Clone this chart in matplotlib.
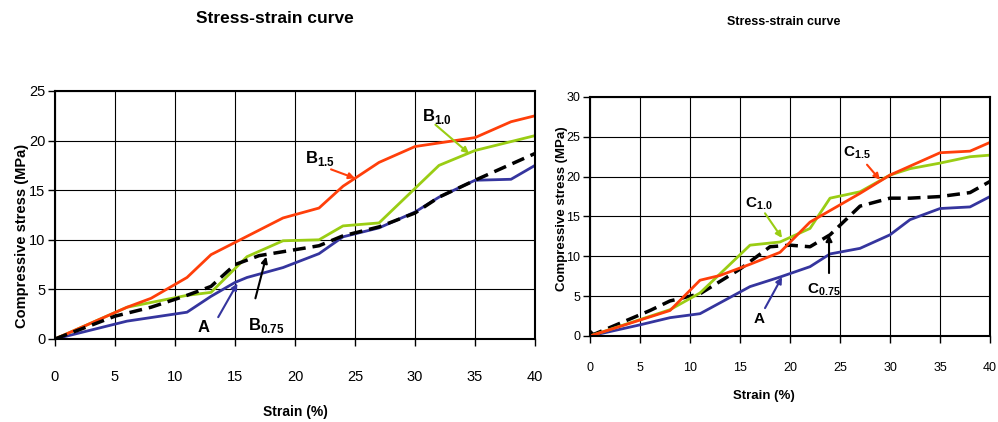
import matplotlib
matplotlib.use("Agg")
import matplotlib.pyplot as plt

plt.rcParams['font.family'] = ['Liberation Sans', 'DejaVu Sans']
plt.rcParams['mathtext.fontset'] = 'custom'
plt.rcParams['mathtext.rm'] = 'Liberation Sans'
plt.rcParams['mathtext.bf'] = 'Liberation Sans:bold'

# ---- left chart (series B) ----
a_left_x = [0, 6, 11, 13, 15, 16, 19, 22, 24, 27, 30, 32, 35, 38, 40]
a_left_y = [0, 1.8, 2.7, 4.3, 5.7, 6.2, 7.2, 8.6, 10.3, 11.2, 12.8, 14.3, 16.0, 16.1, 17.5]

b075_x = [0, 5, 8, 11, 13, 15, 17, 19, 22, 24, 27, 30, 32, 35, 40]
b075_y = [0, 2.3, 3.2, 4.4, 5.3, 7.5, 8.4, 8.8, 9.4, 10.4, 11.3, 12.7, 14.3, 16.0, 18.7]

b10_x = [0, 6, 11, 13, 16, 19, 22, 24, 27, 32, 35, 40]
b10_y = [0, 3.2, 4.4, 4.7, 8.3, 9.9, 10.0, 11.4, 11.7, 17.5, 19.0, 20.5]

b15_x = [0, 6, 8, 11, 13, 19, 22, 24, 27, 30, 35, 38, 40]
b15_y = [0, 3.2, 4.1, 6.2, 8.5, 12.2, 13.2, 15.4, 17.8, 19.4, 20.3, 21.9, 22.5]

# ---- right chart (series C) ----
a_right_x = [0, 5, 8, 11, 16, 19, 22, 24, 27, 30, 32, 35, 38, 40]
a_right_y = [0, 1.4, 2.3, 2.8, 6.2, 7.4, 8.7, 10.3, 11.0, 12.7, 14.6, 16.0, 16.2, 17.5]

c075_x = [0, 6, 8, 11, 15, 18, 20, 22, 24, 27, 30, 32, 35, 38, 40]
c075_y = [0, 3.2, 4.4, 5.3, 8.4, 11.2, 11.4, 11.2, 12.7, 16.3, 17.3, 17.3, 17.5, 18.0, 19.4]

c10_x = [0, 8, 11, 16, 19, 22, 24, 27, 30, 32, 35, 38, 40]
c10_y = [0, 3.3, 5.4, 11.4, 11.8, 13.5, 17.3, 18.1, 20.2, 21.0, 21.7, 22.5, 22.7]

c15_x = [0, 8, 11, 13, 16, 19, 22, 27, 30, 35, 38, 40]
c15_y = [0, 3.2, 7.0, 7.6, 9.0, 10.5, 14.3, 17.9, 20.2, 23.0, 23.2, 24.3]

ticks_x = [0, 5, 10, 15, 20, 25, 30, 35, 40]

RED = '#ff3f0a'
GREEN = '#9acd14'
BLUE = '#35359e'

# label text, text position, arrow start, arrow tip, colour
notes_left = [
    (r'$\mathbf{B}_{\mathbf{1.5}}$', (20.8, 17.7), (23.0, 17.1), (25.0, 16.2), RED),
    (r'$\mathbf{B}_{\mathbf{1.0}}$', (30.6, 22.0), (31.7, 21.6), (34.5, 18.7), GREEN),
    (r'$\mathbf{A}$', (11.8, 0.7), (13.6, 2.2), (15.2, 5.6), BLUE),
    (r'$\mathbf{B}_{\mathbf{0.75}}$', (16.1, 0.9), (16.7, 4.1), (17.6, 8.3), 'black'),
]
notes_right = [
    (r'$\mathbf{C}_{\mathbf{1.0}}$', (15.5, 16.1), (17.5, 15.4), (19.2, 12.3), GREEN),
    (r'$\mathbf{C}_{\mathbf{1.5}}$', (25.3, 22.5), (27.7, 21.5), (29.0, 19.6), RED),
    (r'$\mathbf{C}_{\mathbf{0.75}}$', (21.7, 5.4), (23.9, 7.9), (23.9, 12.7), 'black'),
    (r'$\mathbf{A}$', (16.3, 1.6), (17.5, 3.5), (19.2, 7.4), BLUE),
]

fig = plt.figure(figsize=(9.98, 4.22), dpi=100)
ax1 = fig.add_axes([0.0551, 0.1967, 0.4810, 0.5877])
ax2 = fig.add_axes([0.5912, 0.2038, 0.4008, 0.5664])


def style(ax, ymax, fs, xpad):
    ax.set_xlim(0, 40)
    ax.set_ylim(0, ymax)
    ax.set_xticks(ticks_x)
    ax.set_yticks(range(0, ymax + 1, 5))
    ax.grid(True, color='black', linewidth=0.8)
    ax.set_axisbelow(True)
    for s in ax.spines.values():
        s.set_linewidth(1.5)
    ax.tick_params(axis='x', direction='out', length=5, width=1, pad=xpad, labelsize=fs)
    ax.tick_params(axis='y', direction='out', length=5, width=1, pad=2, labelsize=fs)


def notes(ax, items, fs):
    for txt, pos, start, tip, col in items:
        ax.text(pos[0], pos[1], txt, fontsize=fs, ha='left', va='baseline')
        ax.annotate('', xy=tip, xytext=start,
                    arrowprops=dict(arrowstyle='-|>', color=col, lw=1.5,
                                    mutation_scale=9, shrinkA=0, shrinkB=0))


# left
style(ax1, 25, 10.5, 17)
ax1.plot(a_left_x, a_left_y, color=BLUE, lw=2)
ax1.plot(b10_x, b10_y, color=GREEN, lw=2)
ax1.plot(b15_x, b15_y, color=RED, lw=2)
ax1.plot(b075_x, b075_y, color='black', lw=2.5, dashes=(3.7, 2))
notes(ax1, notes_left, 12)

# right
style(ax2, 30, 9, 14)
ax2.plot(a_right_x, a_right_y, color=BLUE, lw=2)
ax2.plot(c075_x, c075_y, color='black', lw=2.5, dashes=(3.7, 2),
         marker='D', markersize=6, markevery=[0])
ax2.plot(c10_x, c10_y, color=GREEN, lw=2)
ax2.plot(c15_x, c15_y, color=RED, lw=2)
notes(ax2, notes_right, 11)

# titles and axis labels
fig.text(0.275, 0.957, 'Stress-strain curve', fontsize=12.5, fontweight='bold', ha='center', va='center')
fig.text(0.785, 0.948, 'Stress-strain curve', fontsize=9, fontweight='bold', ha='center', va='center')
fig.text(0.296, 0.024, 'Strain (%)', fontsize=10, fontweight='bold', ha='center', va='center')
fig.text(0.765, 0.062, 'Strain (%)', fontsize=9.5, fontweight='bold', ha='center', va='center')
fig.text(0.022, 0.44, 'Compressive stress (MPa)', fontsize=10.5, fontweight='bold',
         rotation=90, ha='center', va='center')
fig.text(0.563, 0.505, 'Compressive stress (MPa)', fontsize=9.5, fontweight='bold',
         rotation=90, ha='center', va='center')

fig.savefig('out.png', dpi=100)
